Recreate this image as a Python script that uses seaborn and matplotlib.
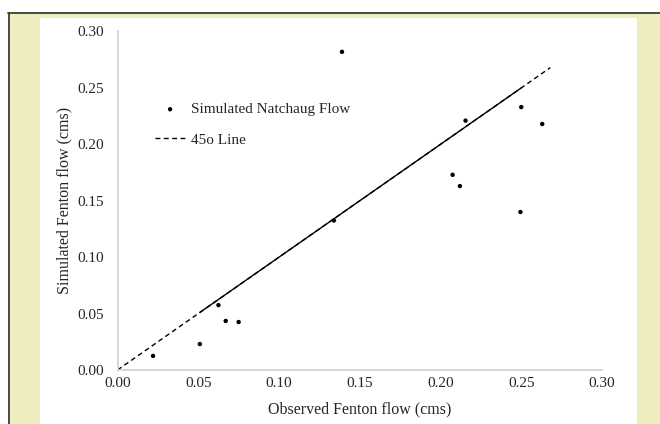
import numpy as np
import pandas as pd
import seaborn as sns
import matplotlib.pyplot as plt
from matplotlib.patches import Rectangle

# observed vs simulated flows (cms)
observed = [0.022, 0.051, 0.0625, 0.067, 0.075, 0.134, 0.139,
            0.2155, 0.250, 0.263, 0.2075, 0.212, 0.2495]
simulated = [0.0125, 0.023, 0.0575, 0.0435, 0.0425, 0.1325, 0.282,
             0.221, 0.233, 0.218, 0.173, 0.163, 0.140]

# 1:1 reference line (dashed) and the solid fitted part along it
line45_x = [0.0, 0.268]
fit_x = [0.051, 0.250]

ticks = [0.00, 0.05, 0.10, 0.15, 0.20, 0.25, 0.30]
tick_labels = ['0.00', '0.05', '0.10', '0.15', '0.20', '0.25', '0.30']

df = pd.DataFrame({'obs': observed, 'sim': simulated})

sns.set_theme(style='white')
plt.rcParams['font.family'] = ['Liberation Serif', 'DejaVu Serif']

W, H = 660, 424
fig = plt.figure(figsize=(W / 100, H / 100), dpi=100, facecolor='white')

# cream frame with dark border, white panel inside
fig.patches.append(Rectangle((8 / W, 0), 1 - 8 / W, 1 - 12 / H, transform=fig.transFigure,
                             facecolor='#efedbf', edgecolor='none', zorder=-3))
fig.add_artist(plt.Line2D([8 / W, 1], [1 - 12.5 / H, 1 - 12.5 / H], transform=fig.transFigure,
                          color='#3c3c3c', lw=1.3))
fig.add_artist(plt.Line2D([8.5 / W, 8.5 / W], [0, 1 - 12.5 / H], transform=fig.transFigure,
                          color='#3c3c3c', lw=1.3))
fig.patches.append(Rectangle((40 / W, 0), (637 - 40) / W, 1 - 18 / H, transform=fig.transFigure,
                             facecolor='white', edgecolor='none', zorder=-2))

ax = fig.add_axes([117.5 / W, (H - 370) / H, (602 - 117.5) / W, (370 - 31.5) / H])
ax.set_facecolor('none')

sns.scatterplot(data=df, x='obs', y='sim', ax=ax, color='black', s=10,
                edgecolor='none', label='Simulated Natchaug Flow', zorder=3)
sns.lineplot(x=line45_x, y=line45_x, ax=ax, color='black', lw=1.0,
             linestyle=(0, (3.5, 2.5)), label='45o Line')
sns.lineplot(x=fit_x, y=fit_x, ax=ax, color='black', lw=1.0, legend=False)

ax.set_xlim(0, 0.30)
ax.set_ylim(0, 0.30)
ax.set_xticks(ticks)
ax.set_yticks(ticks)
ax.set_xticklabels(tick_labels)
ax.set_yticklabels(tick_labels)
ax.tick_params(axis='both', length=0, labelsize=11, colors='#262626')
ax.tick_params(axis='x', pad=5)
ax.tick_params(axis='y', pad=10)

for side in ['top', 'right']:
    ax.spines[side].set_visible(False)
for side in ['left', 'bottom']:
    ax.spines[side].set_color('#cfcfcf')
    ax.spines[side].set_linewidth(1.2)

ax.set_xlabel('Observed Fenton flow (cms)', fontsize=11.5, color='#262626', labelpad=8)
ax.set_ylabel('Simulated Fenton flow (cms)', fontsize=11.5, color='#262626', labelpad=3)

ax.legend(loc='upper left', bbox_to_anchor=(0.077, 0.79), frameon=False, fontsize=11,
          borderpad=0, borderaxespad=0, handlelength=2.0, handletextpad=0.4,
          labelspacing=1.1, labelcolor='#262626')

fig.savefig('out.png', dpi=100)
